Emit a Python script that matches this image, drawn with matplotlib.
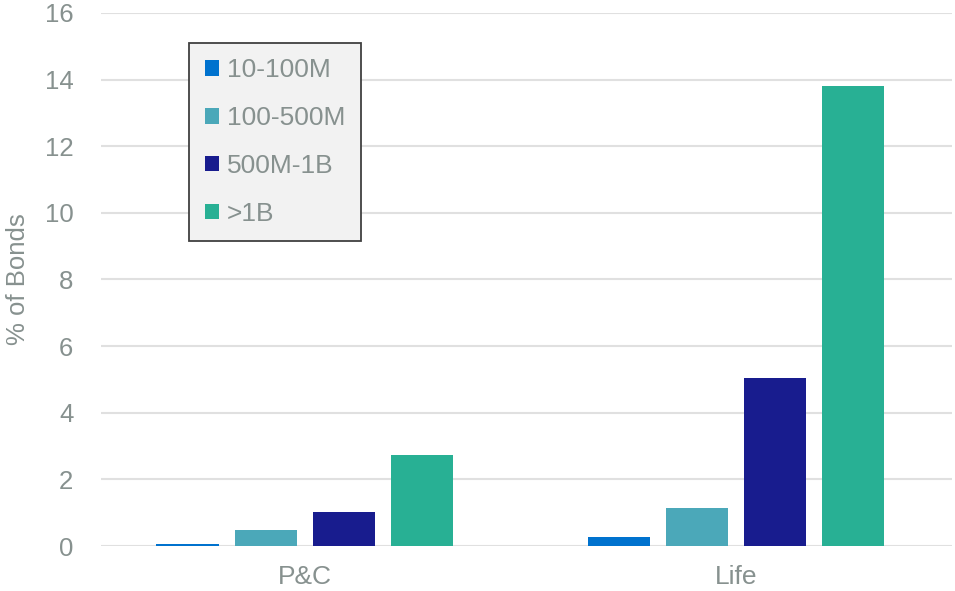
import numpy as np
import matplotlib
matplotlib.use("Agg")
import matplotlib.pyplot as plt

# data
categories = ["P&C", "Life"]
series_names = ["10-100M", "100-500M", "500M-1B", ">1B"]
pc_values = [0.06, 0.48, 1.02, 2.72]
life_values = [0.26, 1.15, 5.05, 13.82]
y_ticks = [0, 2, 4, 6, 8, 10, 12, 14, 16]

colors = ["#0072ce", "#4ba8b9", "#181c8e", "#28b094"]
grey = "#87918f"

plt.rcParams["font.family"] = ["Liberation Sans", "DejaVu Sans"]

fig = plt.figure(figsize=(9.55, 5.91), dpi=100)
ax = fig.add_axes([0.1058, 0.0761, 0.891, 0.902])

x = np.arange(len(categories))
width = 0.144
step = 0.181
values = np.array([pc_values, life_values]).T  # one row per series

for i, name in enumerate(series_names):
    offset = (i - 1.5) * step
    ax.bar(x + offset, values[i], width, color=colors[i], label=name,
           linewidth=0, zorder=3)

ax.set_xlim(-0.472, 1.501)
ax.set_ylim(0, 16)
ax.set_yticks(y_ticks)
ax.set_xticks(x)
ax.set_xticklabels(categories)
ax.grid(axis="y", color="#e0e0e0", linewidth=1.5, zorder=0)
for s in ax.spines.values():
    s.set_visible(False)
ax.tick_params(axis="both", length=0, labelsize=18.5, labelcolor=grey)
ax.tick_params(axis="y", pad=20)
ax.tick_params(axis="x", pad=14, labelsize=19)
ax.set_ylabel("% of Bonds", fontsize=18.5, color=grey)
ax.yaxis.set_label_coords(-0.083, 0.5)

leg = ax.legend(loc="upper left", bbox_to_anchor=(0.198, 0.928),
                bbox_transform=fig.transFigure, borderaxespad=0,
                fontsize=19, labelcolor=grey, handlelength=0.53,
                handleheight=0.53, handletextpad=0.3, labelspacing=0.9,
                borderpad=0.6, fancybox=False, framealpha=1)
leg.get_frame().set_facecolor("#f2f2f2")
leg.get_frame().set_edgecolor("#404040")
leg.get_frame().set_linewidth(1.3)

fig.savefig("out.png", dpi=100)
